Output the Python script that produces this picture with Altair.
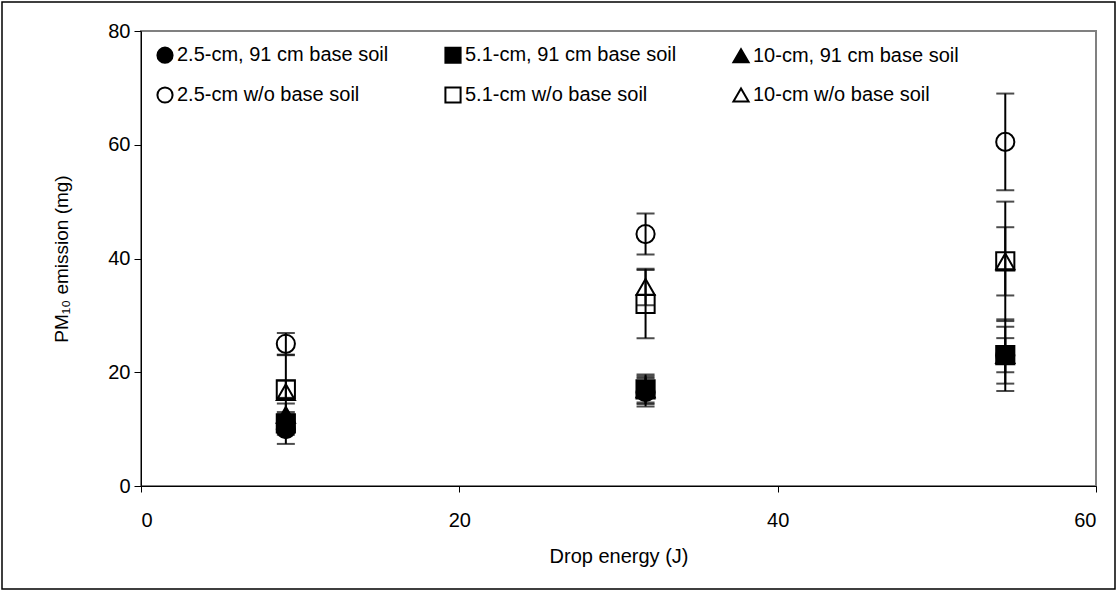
import altair as alt
import pandas as pd

series = [
    "2.5-cm, 91 cm base soil",
    "5.1-cm, 91 cm base soil",
    "10-cm, 91 cm base soil",
    "2.5-cm w/o base soil",
    "5.1-cm w/o base soil",
    "10-cm w/o base soil",
]
shapes = ["circle", "square", "triangle-up", "circle", "square", "triangle-up"]
fills = ["black", "black", "black", "transparent", "transparent", "transparent"]
strokes = ["black"] * 6

energy = [9.1, 31.7, 54.3]
# mean PM10 emission (mg) per series at each drop energy
means = {
    series[0]: [10.0, 16.5, 23.0],
    series[1]: [11.0, 17.0, 23.0],
    series[2]: [12.5, 17.0, 23.0],
    series[3]: [25.0, 44.3, 60.5],
    series[4]: [17.0, 32.0, 39.5],
    series[5]: [16.5, 35.0, 39.5],
}
# error (± mg)
errs = {
    series[0]: [2.6, 2.5, 3.0],
    series[1]: [2.0, 2.6, 6.3],
    series[2]: [2.0, 2.3, 5.0],
    series[3]: [1.9, 3.6, 8.5],
    series[4]: [1.5, 6.0, 10.5],
    series[5]: [6.5, 3.2, 6.0],
}

rows = []
for s in series:
    for e, m, d in zip(energy, means[s], errs[s]):
        rows.append({"series": s, "energy": e, "pm": m, "lo": m - d, "hi": m + d})
df = pd.DataFrame(rows)
caps = pd.concat([
    df[["series", "energy", "lo"]].rename(columns={"lo": "cap"}),
    df[["series", "energy", "hi"]].rename(columns={"hi": "cap"}),
])

FONT = "Liberation Sans"

xenc = alt.X("energy:Q", title="Drop energy (J)",
             scale=alt.Scale(domain=[0, 60], nice=False),
             axis=alt.Axis(values=[0, 20, 40, 60], grid=False, tickSize=6,
                           labelPadding=18, titlePadding=16, domainColor="black",
                           tickColor="black"))
yscale = alt.Scale(domain=[0, 80], nice=False)
yenc = alt.Y("pm:Q", title="PM₁₀ emission (mg)", scale=yscale,
             axis=alt.Axis(values=[0, 20, 40, 60, 80], grid=False, tickSize=7,
                           labelPadding=4, titlePadding=36, domainColor="black",
                           tickColor="black"))

legend_cfg = dict(title=None, orient="none", legendX=14, legendY=14,
                  columns=3, columnPadding=52, rowPadding=16,
                  symbolSize=230, symbolStrokeWidth=2,
                  labelFontSize=20, labelFont=FONT,
                  labelColor="black", labelLimit=0,
                  labelOffset=2, direction="horizontal")

bars = alt.Chart(df).mark_rule(color="black", strokeWidth=2).encode(
    x=xenc, y=alt.Y("lo:Q", scale=yscale), y2="hi:Q"
)
capmarks = alt.Chart(caps).mark_tick(color="black", thickness=2, size=18,
                                     orient="horizontal").encode(
    x="energy:Q", y="cap:Q"
)
points = alt.Chart(df).mark_point(size=330, strokeWidth=2,
                                  opacity=1, filled=False).encode(
    x="energy:Q",
    y=yenc,
    shape=alt.Shape("series:N", sort=series,
                    scale=alt.Scale(domain=series, range=shapes),
                    legend=alt.Legend(**legend_cfg)),
    fill=alt.Fill("series:N", sort=series,
                  scale=alt.Scale(domain=series, range=fills),
                  legend=alt.Legend(**legend_cfg)),
    stroke=alt.Stroke("series:N", sort=series,
                      scale=alt.Scale(domain=series, range=strokes),
                      legend=alt.Legend(**legend_cfg)),
)

border = alt.Chart(pd.DataFrame({"a": [0]})).mark_rect(
    fill=None, stroke="black", strokeWidth=1.5
).encode(x=alt.value(-139), x2=alt.value(1095 - 141 + 20), y=alt.value(-29),
         y2=alt.value(589 - 31))

chart = alt.layer(border, bars, capmarks, points).properties(
    width=955, height=455,
    padding={"left": 141, "top": 31, "right": 22, "bottom": 106},
    autosize=alt.AutoSizeParams(type="none"),
    background="white",
).configure_view(
    stroke="#808080", strokeWidth=2
).configure_axis(
    labelFont=FONT, titleFont=FONT, labelFontSize=20, titleFontSize=20,
    titleFontWeight="normal", labelColor="black", titleColor="black",
).configure_axisY(
    titleFontSize=19
)

chart.save("out.html", embed_options={"renderer": "svg", "actions": False})
